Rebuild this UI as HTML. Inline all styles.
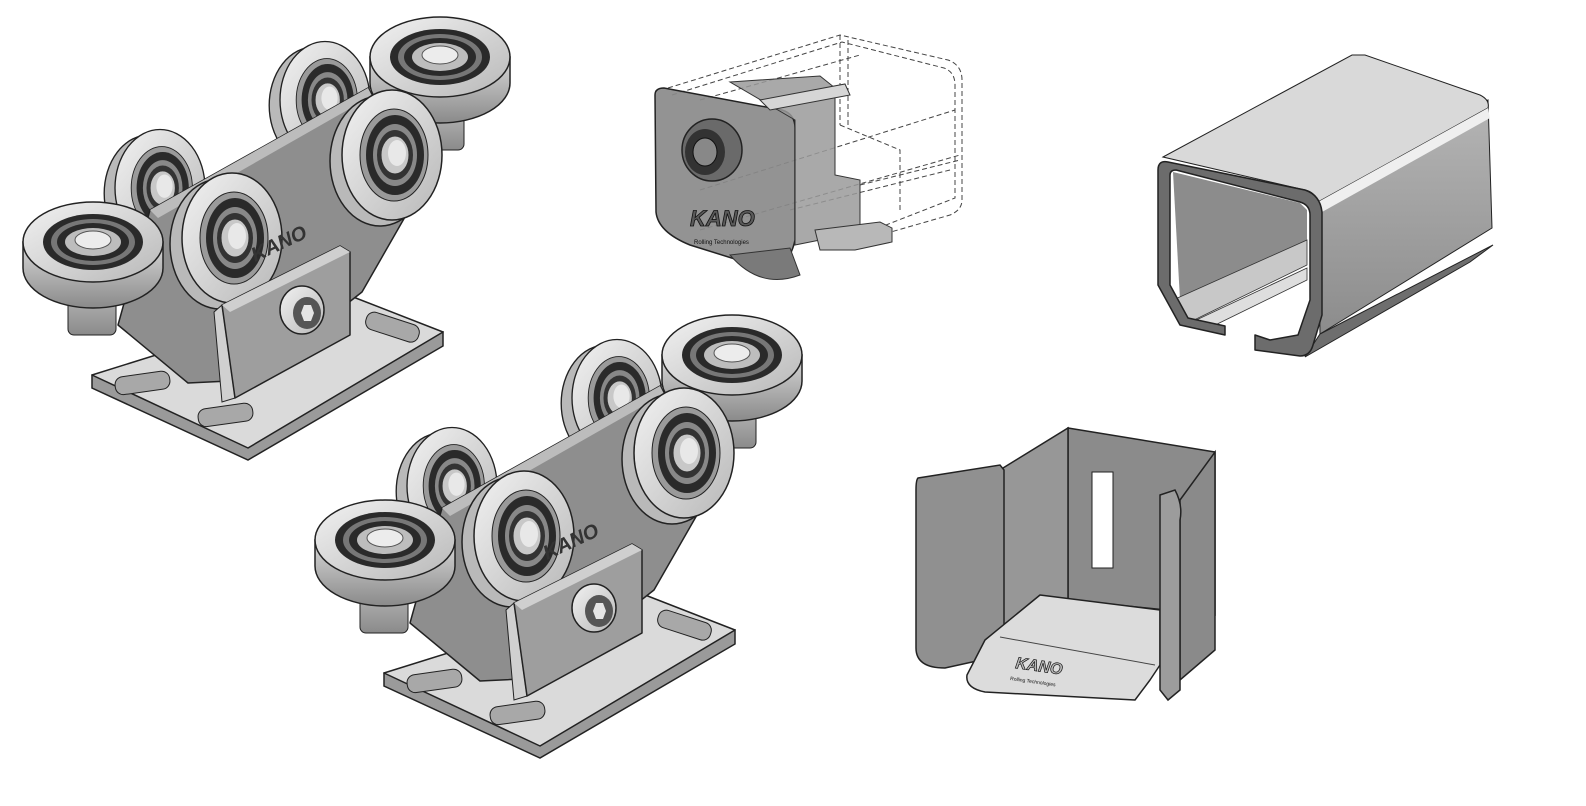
<!DOCTYPE html>
<html><head><meta charset="utf-8"><style>
html,body{margin:0;padding:0;background:#fff;width:1586px;height:806px;overflow:hidden}
svg{display:block}
text{font-family:"Liberation Sans",sans-serif}
</style></head><body>
<svg width="1586" height="806" viewBox="0 0 1586 806" xmlns="http://www.w3.org/2000/svg">
<defs>
<linearGradient id="wf" x1="0" y1="0" x2="1" y2="1"><stop offset="0" stop-color="#f2f2f2"/><stop offset="1" stop-color="#b8b8b8"/></linearGradient>
<linearGradient id="ws" x1="0" y1="0" x2="0" y2="1"><stop offset="0" stop-color="#d8d8d8"/><stop offset="1" stop-color="#8a8a8a"/></linearGradient>
<linearGradient id="rs" x1="0" y1="0" x2="0" y2="1"><stop offset="0" stop-color="#b5b5b5"/><stop offset="1" stop-color="#8c8c8c"/></linearGradient>
<g id="vw">
  <ellipse cx="-12" cy="6" rx="50" ry="65" fill="#b9b9b9" stroke="#222" stroke-width="1.5"/>
  <ellipse cx="0" cy="0" rx="50" ry="65" fill="url(#wf)" stroke="#222" stroke-width="1.5"/>
  <ellipse cx="2" cy="0" rx="34" ry="46" fill="#9a9a9a" stroke="#222"/>
  <ellipse cx="3" cy="0" rx="29" ry="40" fill="#2a2a2a"/>
  <ellipse cx="3" cy="0" rx="22" ry="31" fill="#888"/>
  <ellipse cx="3" cy="0" rx="18" ry="25" fill="#333"/>
  <ellipse cx="3" cy="0" rx="14" ry="19" fill="#c8c8c8" stroke="#333"/>
  <ellipse cx="5" cy="-2" rx="9" ry="13" fill="#e8e8e8"/>
</g>
<g id="hw">
  <path d="M-70 0 L-70 26 A70 40 0 0 0 70 26 L70 0 Z" fill="url(#ws)" stroke="#222" stroke-width="1.5"/>
  <ellipse cx="0" cy="0" rx="70" ry="40" fill="url(#wf)" stroke="#222" stroke-width="1.5"/>
  <ellipse cx="0" cy="0" rx="50" ry="28" fill="#2a2a2a"/>
  <ellipse cx="0" cy="0" rx="42" ry="23" fill="#777"/>
  <ellipse cx="0" cy="0" rx="36" ry="19" fill="#2a2a2a"/>
  <ellipse cx="0" cy="0" rx="28" ry="14" fill="#bdbdbd"/>
  <ellipse cx="0" cy="-2" rx="18" ry="9" fill="#ececec" stroke="#555"/>
</g>
<g id="car">
  <!-- base plate -->
  <path d="M92 375 L92 388 L248 460 L443 346 L443 332 Z" fill="#9a9a9a" stroke="#222" stroke-width="1.5"/>
  <path d="M92 375 L348 295 L443 332 L248 448 Z" fill="#dadada" stroke="#222" stroke-width="1.5" stroke-linejoin="round"/>
  <rect x="115" y="374" width="55" height="18" rx="8" fill="#a8a8a8" stroke="#222" transform="rotate(-8 142 383)"/>
  <rect x="198" y="406" width="55" height="18" rx="8" fill="#a8a8a8" stroke="#222" transform="rotate(-8 225 415)"/>
  <rect x="365" y="318" width="55" height="18" rx="8" fill="#a8a8a8" stroke="#222" transform="rotate(18 392 327)"/>
  <!-- back wheels -->
  <use href="#vw" transform="translate(160,188) scale(0.9)"/>
  <use href="#vw" transform="translate(325,100) scale(0.9)"/>
  <!-- stems -->
  <rect x="68" y="260" width="48" height="75" rx="6" fill="url(#ws)" stroke="#222"/>
  <rect x="428" y="80" width="36" height="70" rx="6" fill="url(#ws)" stroke="#222"/>
  <!-- central plate -->
  <path d="M118 325 L150 210 L368 88 L425 182 L362 292 L250 380 L188 383 Z" fill="#8e8e8e" stroke="#222" stroke-width="1.5" stroke-linejoin="round"/>
  <path d="M150 210 L368 88 L372 96 L158 218 Z" fill="#bcbcbc"/>
  <!-- horizontal wheels -->
  <use href="#hw" transform="translate(93,242)"/>
  <use href="#hw" transform="translate(440,57)"/>
  <!-- front vertical wheels -->
  <use href="#vw" transform="translate(232,238)"/>
  <use href="#vw" transform="translate(392,155)"/>
  <text x="255" y="262" font-size="20" font-weight="bold" fill="#333" transform="rotate(-25 255 262)" font-style="italic">KANO</text>
  <!-- bracket -->
  <path d="M214 312 L222 305 L235 398 L222 402 Z" fill="#d0d0d0" stroke="#222"/>
  <path d="M222 305 L340 246 L350 252 L350 335 L235 398 Z" fill="#9e9e9e" stroke="#222" stroke-width="1.5" stroke-linejoin="round"/>
  <path d="M222 305 L340 246 L350 252 L230 312 Z" fill="#cfcfcf"/>
  <!-- bolt -->
  <ellipse cx="302" cy="310" rx="22" ry="24" fill="url(#wf)" stroke="#222" stroke-width="1.5"/>
  <ellipse cx="307" cy="313" rx="14" ry="16" fill="#555"/>
  <polygon points="301,313 304,305 311,305 314,313 311,321 304,321" fill="#e5e5e5"/>
</g>
</defs>

<use href="#car"/>
<use href="#car" transform="translate(292,298)"/>

<!-- end cap with dashed rail -->
<g fill="none" stroke="#444" stroke-width="1" stroke-dasharray="5,3">
  <path d="M668 88 L840 35 L948 60 Q962 65 962 80 L962 200 Q962 210 950 215 L870 238"/>
  <path d="M672 95 L842 42 L944 68 Q955 72 955 85 L955 198 L868 232"/>
  <path d="M840 35 L840 125 M848 40 L848 125"/>
  <path d="M700 100 L860 55 M700 230 L960 155 M700 190 L955 110 M860 185 L960 160 M790 210 L950 170"/>
  <path d="M840 125 L900 150 L900 210"/>
</g>
<path d="M655 95 Q655 88 664 88 L782 110 Q795 114 795 128 L795 240 Q790 265 770 270 L690 245 Q658 232 656 212 Z" fill="#8a8a8a" fill-opacity="0.92" stroke="#222" stroke-width="1.5"/>
<path d="M730 82 L820 76 L835 88 L835 175 L860 180 L860 225 L820 240 L795 245 L795 120 Z" fill="#9a9a9a" fill-opacity="0.85" stroke="#333"/>
<path d="M760 100 L845 84 L850 95 L770 110 Z" fill="#d6d6d6" stroke="#333"/>
<path d="M815 230 L880 222 L892 228 L892 242 L855 250 L820 250 Z" fill="#b8b8b8" stroke="#333"/>
<path d="M730 255 Q760 290 800 275 L790 248 Z" fill="#7a7a7a" stroke="#333"/>
<ellipse cx="712" cy="150" rx="30" ry="31" fill="#6a6a6a" stroke="#222" stroke-width="1.5"/>
<ellipse cx="705" cy="152" rx="20" ry="23" fill="#333"/>
<ellipse cx="705" cy="152" rx="12" ry="14" fill="#888" stroke="#111"/>
<text x="690" y="226" font-size="22" font-weight="bold" font-style="italic" fill="#5a5a5a" stroke="#111" stroke-width="0.8">KANO</text>
<text x="694" y="244" font-size="6" fill="#111">Rolling Technologies</text>

<!-- rail -->
<path d="M1318 192 L1488 100 L1492 228 L1320 334 Z" fill="url(#rs)" stroke="#222" stroke-width="1"/>
<path d="M1320 334 L1493 245 L1470 262 L1305 357 Z" fill="#6e6e6e" stroke="#222"/>
<path d="M1163 157 L1352 55 L1365 55 L1480 95 Q1490 100 1488 108 L1318 202 Q1315 192 1305 190 Z" fill="#d9d9d9" stroke="#222" stroke-width="1"/>
<path d="M1318 202 L1488 108 L1490 118 L1322 212 Z" fill="#efefef"/>
<path d="M1173 172 L1300 203 L1307 210 L1307 240 L1180 300 Z" fill="#8c8c8c"/>
<path d="M1173 300 L1307 240 L1307 265 L1190 322 Z" fill="#c8c8c8" stroke="#333" stroke-width="0.8"/>
<path d="M1192 322 L1307 268 L1307 280 L1205 330 Z" fill="#dedede" stroke="#333" stroke-width="0.8"/>
<path d="M1168 162 Q1158 160 1158 170 L1158 285 L1180 325 L1225 335 L1225 326 L1188 318 L1170 285 L1170 175 Q1170 170 1176 170 L1300 202 Q1310 205 1310 215 L1310 300 L1298 335 L1270 340 L1255 335 L1255 350 L1300 356 Q1310 356 1313 345 L1322 315 L1322 212 Q1320 195 1305 190 Z" fill="#6c6c6c" stroke="#222" stroke-width="1.5" stroke-linejoin="round"/>

<!-- bracket bottom right -->
<path d="M1068 428 L1215 452 L1215 615 L1068 600 Z" fill="#8b8b8b" stroke="#222" stroke-width="1.5"/>
<path d="M1003 468 L1068 428 L1068 600 L1003 640 Z" fill="#979797" stroke="#222" stroke-width="1.5"/>
<rect x="1092" y="472" width="21" height="96" fill="#fff" stroke="#222"/>
<path d="M918 478 L1000 465 L1004 470 L1004 655 L945 668 Q916 668 916 648 L916 490 Q916 480 918 478 Z" fill="#909090" stroke="#222" stroke-width="1.5"/>
<path d="M985 640 L1040 595 L1160 610 L1160 665 L1150 680 L1135 700 L985 692 Q965 688 967 675 Z" fill="#dcdcdc" stroke="#222" stroke-width="1.5" stroke-linejoin="round"/>
<line x1="1000" y1="637" x2="1155" y2="665" stroke="#444"/>
<text x="1015" y="668" font-size="16" font-weight="bold" font-style="italic" fill="#bbb" stroke="#111" stroke-width="0.7" transform="rotate(8 1015 668)">KANO</text>
<text x="1010" y="680" font-size="5" fill="#111" transform="rotate(8 1010 680)">Rolling Technologies</text>
<path d="M1180 500 L1215 452 L1215 650 L1180 680 Z" fill="#8a8a8a" stroke="#222" stroke-width="1.5"/>
<path d="M1160 495 L1175 490 Q1183 505 1180 520 L1180 690 L1168 700 L1160 690 Z" fill="#9c9c9c" stroke="#222" stroke-width="1.5"/>
</svg>
</body></html>
